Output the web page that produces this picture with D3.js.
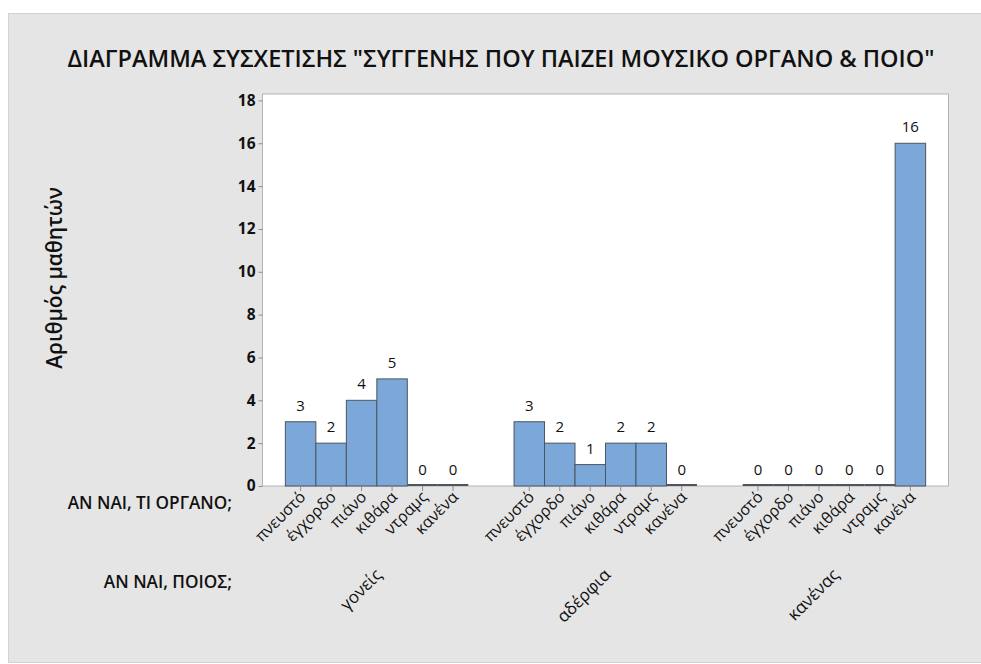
<!DOCTYPE html>
<html>
<head>
<meta charset="utf-8">
<script src="https://cdn.jsdelivr.net/npm/d3@7"></script>
<style>
  body { margin: 0; background: #fff; }
  svg { display: block; font-family: "Open Sans", "Noto Sans", sans-serif; }
</style>
</head>
<body>
<div id="chart"></div>
<script>
// data
var groups = ["γονείς", "αδέρφια", "κανένας"];
var instruments = ["πνευστό", "έγχορδο", "πιάνο", "κιθάρα", "ντραμς", "κανένα"];
var goneis = [3, 2, 4, 5, 0, 0];
var aderfia = [3, 2, 1, 2, 2, 0];
var kanenas = [0, 0, 0, 0, 0, 16];
var yTicks = [0, 2, 4, 6, 8, 10, 12, 14, 16, 18];

var seriesByGroup = [goneis, aderfia, kanenas];
var data = [];
groups.forEach(function (g, gi) {
    instruments.forEach(function (inst, ii) {
        data.push({ group: g, inst: inst, value: seriesByGroup[gi][ii] });
    });
});

var W = 981, H = 664;
var plot = { left: 262.5, top: 94, right: 948.5, bottom: 486 };

var svg = d3.select("#chart").append("svg")
    .attr("width", W)
    .attr("height", H);

// grey panel
svg.append("rect")
    .attr("x", 8.5).attr("y", 13.5)
    .attr("width", W - 8).attr("height", H - 15)
    .attr("fill", "#e5e5e5")
    .attr("stroke", "#d2d2d2");

svg.append("rect")
    .attr("x", plot.left).attr("y", plot.top)
    .attr("width", plot.right - plot.left).attr("height", plot.bottom - plot.top)
    .attr("fill", "#fff")
    .attr("stroke", "#b4b4b4");

var x0 = d3.scaleBand()
    .domain(groups)
    .range([plot.left, plot.right])
    .paddingInner(0.2)
    .paddingOuter(0.1);

var x1 = d3.scaleBand()
    .domain(instruments)
    .range([0, x0.bandwidth()])
    .padding(0);

var y = d3.scaleLinear()
    .domain([0, 18.3])
    .range([plot.bottom, plot.top]);

// y axis
var yAxis = d3.axisLeft(y).tickValues(yTicks).tickSize(4).tickPadding(3);
var gy = svg.append("g")
    .attr("transform", "translate(" + plot.left + ",0)")
    .call(yAxis);
gy.select(".domain").remove();
gy.selectAll(".tick line").attr("stroke", "#8c8c8c");
gy.selectAll(".tick text")
    .attr("font-family", "'Open Sans', sans-serif")
    .attr("font-size", 15.5)
    .attr("font-weight", "bold")
    .attr("fill", "#111");

// bars (zero values show as a flat dark line on the baseline)
svg.append("g").selectAll("rect")
    .data(data.filter(d => d.value > 0))
    .join("rect")
    .attr("x", d => x0(d.group) + x1(d.inst))
    .attr("y", d => y(d.value))
    .attr("width", x1.bandwidth())
    .attr("height", d => y(0) - y(d.value))
    .attr("fill", "#7ba7d9")
    .attr("stroke", "#4d5560")
    .attr("stroke-width", 1);

svg.append("g").selectAll("line")
    .data(data.filter(d => d.value === 0))
    .join("line")
    .attr("x1", d => x0(d.group) + x1(d.inst))
    .attr("x2", d => x0(d.group) + x1(d.inst) + x1.bandwidth())
    .attr("y1", y(0) - 1)
    .attr("y2", y(0) - 1)
    .attr("stroke", "#4d5560")
    .attr("stroke-width", 2);

// value labels
svg.append("g").selectAll("text")
    .data(data)
    .join("text")
    .attr("x", d => x0(d.group) + x1(d.inst) + x1.bandwidth() / 2)
    .attr("y", d => y(d.value) - 11)
    .attr("text-anchor", "middle")
    .attr("font-size", 15)
    .attr("fill", "#111")
    .text(d => d.value);

// x ticks and instrument labels
groups.forEach(function (g) {
    var gx = svg.append("g")
        .attr("transform", "translate(" + x0(g) + "," + plot.bottom + ")")
        .call(d3.axisBottom(x1).tickSize(5).tickFormat(""));
    gx.select(".domain").remove();
    gx.selectAll(".tick line").attr("stroke", "#8c8c8c");

    svg.append("g").selectAll("text")
        .data(instruments)
        .join("text")
        .attr("transform", d => "translate(" + (x0(g) + x1(d) + x1.bandwidth() / 2 + 6) + "," + (plot.bottom + 12) + ") rotate(-45)")
        .attr("text-anchor", "end")
        .attr("font-size", 16)
        .attr("fill", "#111")
        .text(d => d);

    svg.append("text")
        .attr("transform", "translate(" + (x0(g) + x0.bandwidth() / 2 + 6) + "," + (plot.bottom + 90) + ") rotate(-45)")
        .attr("text-anchor", "end")
        .attr("font-size", 17)
        .attr("fill", "#111")
        .text(g);
});

// row labels
svg.append("text")
    .attr("x", 232).attr("y", 509)
    .attr("text-anchor", "end")
    .attr("font-size", 17.2)
    .attr("font-weight", 600)
    .attr("fill", "#111")
    .text("ΑΝ ΝΑΙ, ΤΙ ΟΡΓΑΝΟ;");

svg.append("text")
    .attr("x", 232).attr("y", 588)
    .attr("text-anchor", "end")
    .attr("font-size", 17.2)
    .attr("font-weight", 600)
    .attr("fill", "#111")
    .text("ΑΝ ΝΑΙ, ΠΟΙΟΣ;");

// title
svg.append("text")
    .attr("x", 501).attr("y", 67)
    .attr("text-anchor", "middle")
    .attr("font-size", 23.5)
    .attr("font-weight", 600)
    .attr("fill", "#111")
    .text("ΔΙΑΓΡΑΜΜΑ ΣΥΣΧΕΤΙΣΗΣ \"ΣΥΓΓΕΝΗΣ ΠΟΥ ΠΑΙΖΕΙ ΜΟΥΣΙΚΟ ΟΡΓΑΝΟ & ΠΟΙΟ\"");

// y title
svg.append("text")
    .attr("transform", "translate(62,278) rotate(-90)")
    .attr("text-anchor", "middle")
    .attr("font-size", 21)
    .attr("font-weight", 600)
    .attr("fill", "#111")
    .text("Αριθμός μαθητών");
</script>
</body>
</html>
